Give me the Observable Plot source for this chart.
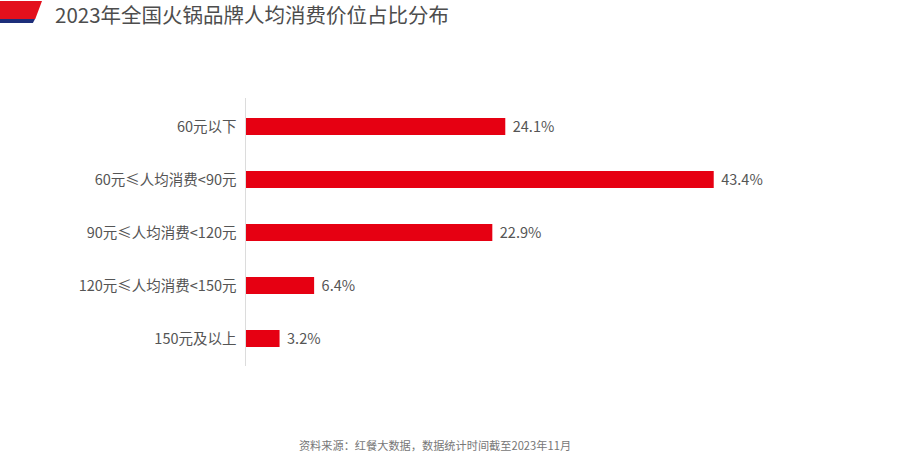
<!DOCTYPE html>
<html>
<head>
<meta charset="utf-8">
<script src="https://cdn.jsdelivr.net/npm/d3@7"></script>
<script src="https://cdn.jsdelivr.net/npm/@observablehq/plot@0.6"></script>
<style>
  body { margin: 0; background: #fff; font-family: "Noto Sans CJK SC", "Noto Sans", sans-serif; }
  #wrap { position: relative; width: 900px; height: 474px; overflow: hidden; }
  #title { position: absolute; left: 55px; top: 0px; height: 28px; line-height: 28px; font-size: 20.5px; color: #4d4d4d; }
  #flag-red { position: absolute; left: 0; top: 1px; width: 42px; height: 18px; background: #e3101c; clip-path: polygon(0 0, 100% 0, 84% 100%, 0 100%); }
  #flag-blue { position: absolute; left: 0; top: 19px; width: 35px; height: 4px; background: #1d2e7a; clip-path: polygon(0 0, 100% 0, 94% 100%, 0 100%); }
  #chart { position: absolute; left: 0; top: 30px; }
  #caption { position: absolute; left: 0; width: 900px; top: 437px; text-align: center; font-size: 11.2px; color: #777; padding-right: 30px; box-sizing: border-box; }
</style>
</head>
<body>
<div id="wrap">
  <div id="flag-red"></div>
  <div id="flag-blue"></div>
  <div id="title">2023年全国火锅品牌人均消费价位占比分布</div>
  <div id="chart"></div>
  <div id="caption">资料来源：红餐大数据，数据统计时间截至2023年11月</div>
</div>
<script>
const categories = ["60元以下", "60元≤人均消费<90元", "90元≤人均消费<120元", "120元≤人均消费<150元", "150元及以上"];
const values = [24.1, 43.4, 22.9, 6.4, 3.2];
const valueLabels = ["24.1%", "43.4%", "22.9%", "6.4%", "3.2%"];

const data = categories.map((c, i) => ({category: c, value: values[i], label: valueLabels[i]}));

const chart = Plot.plot({
  width: 900,
  height: 400,
  marginTop: 52,
  marginBottom: 46,
  marginLeft: 245,
  marginRight: 115,
  style: {fontFamily: '"Noto Sans CJK SC", "Noto Sans", sans-serif', background: "transparent"},
  x: {domain: [0, 50], axis: null},
  y: {domain: categories, padding: 0.67, label: null},
  marks: [
    Plot.barX(data, {x: "value", y: "category", fill: "#e60012"}),
    Plot.ruleX([0], {stroke: "#dcdcdc", strokeWidth: 1, insetTop: 16, insetBottom: 18}),
    Plot.text(data, {x: "value", y: "category", text: "label", textAnchor: "start", dx: 7, fontSize: 14.5, fill: "#555"}),
    Plot.axisY({tickSize: 0, tickPadding: 9, fontSize: 14.5, color: "#555", label: null})
  ]
});
document.getElementById("chart").appendChild(chart);
</script>
</body>
</html>
